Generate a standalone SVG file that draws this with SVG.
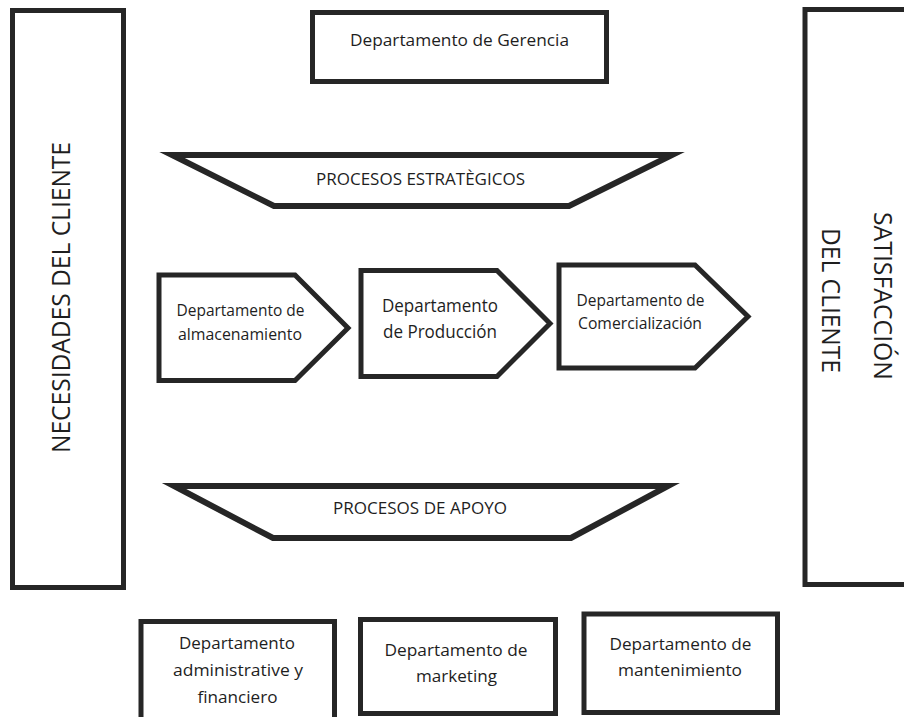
<svg xmlns="http://www.w3.org/2000/svg" width="904" height="717" viewBox="0 0 904 717">
<style>
.box{fill:#ffffff;stroke:#262626;stroke-width:5;stroke-linejoin:miter;stroke-miterlimit:12}
.trap{fill:#ffffff;stroke:#262626;stroke-width:6;stroke-linejoin:miter;stroke-miterlimit:12}
.t{font-family:"Open Sans","Noto Sans","DejaVu Sans",sans-serif;fill:#1e1e1e;text-anchor:middle}
</style>
<rect width="904" height="717" fill="#ffffff"/>
<g id="necesidades">
<rect class="box" x="12.5" y="10.5" width="111" height="577"/>
<text class="t" font-size="26" textLength="311" lengthAdjust="spacingAndGlyphs" transform="translate(70,297.5) rotate(-90)">NECESIDADES DEL CLIENTE</text>
</g>
<g id="satisfaccion">
<rect class="box" x="805" y="9.5" width="130" height="575"/>
<text class="t" font-size="25" textLength="168" lengthAdjust="spacingAndGlyphs" transform="translate(874,296) rotate(90)">SATISFACCIÓN</text>
<text class="t" font-size="25" textLength="145" lengthAdjust="spacingAndGlyphs" transform="translate(822,300.5) rotate(90)">DEL CLIENTE</text>
</g>
<g id="gerencia">
<rect class="box" x="312.5" y="12.5" width="294" height="69"/>
<text class="t" x="459.5" y="46" font-size="17" textLength="219" lengthAdjust="spacingAndGlyphs">Departamento de Gerencia</text>
</g>
<g id="estrategicos">
<polygon class="trap" points="172,155 672,155 569,206 274,206"/>
<text class="t" x="420.5" y="185" font-size="16.5" textLength="209" lengthAdjust="spacingAndGlyphs">PROCESOS ESTRATÈGICOS</text>
</g>
<g id="almacenamiento">
<polygon class="box" points="159,275 295,275 348,328 295,380.5 159,380.5"/>
<text class="t" x="240.5" y="316" font-size="16.5" textLength="128" lengthAdjust="spacingAndGlyphs">Departamento de</text>
<text class="t" x="240" y="339.5" font-size="16.5" textLength="124" lengthAdjust="spacingAndGlyphs">almacenamiento</text>
</g>
<g id="produccion">
<polygon class="box" points="361,270.5 497,270.5 550,323.5 497,376.5 361,376.5"/>
<text class="t" x="440" y="312" font-size="18" textLength="116" lengthAdjust="spacingAndGlyphs">Departamento</text>
<text class="t" x="440" y="337.5" font-size="18" textLength="114" lengthAdjust="spacingAndGlyphs">de Producción</text>
</g>
<g id="comercializacion">
<polygon class="box" points="559,265 695,265 748,316.5 695,368 559,368"/>
<text class="t" x="640.5" y="305.5" font-size="16.5" textLength="128" lengthAdjust="spacingAndGlyphs">Departamento de</text>
<text class="t" x="640" y="329" font-size="16.5" textLength="124" lengthAdjust="spacingAndGlyphs">Comercialización</text>
</g>
<g id="apoyo">
<polygon class="trap" points="174,486 668,486 571,538 273,538"/>
<text class="t" x="420" y="514" font-size="16" textLength="174" lengthAdjust="spacingAndGlyphs">PROCESOS DE APOYO</text>
</g>
<g id="administrativo">
<rect class="box" x="141" y="621.5" width="193.5" height="110"/>
<text class="t" x="237" y="649" font-size="17" textLength="116" lengthAdjust="spacingAndGlyphs">Departamento</text>
<text class="t" x="238" y="676" font-size="17" textLength="130" lengthAdjust="spacingAndGlyphs">administrative y</text>
<text class="t" x="237.5" y="702.5" font-size="17" textLength="80" lengthAdjust="spacingAndGlyphs">financiero</text>
</g>
<g id="marketing">
<rect class="box" x="360.5" y="619.5" width="195" height="94"/>
<text class="t" x="456" y="656" font-size="17" textLength="143" lengthAdjust="spacingAndGlyphs">Departamento de</text>
<text class="t" x="456.5" y="681.5" font-size="17" textLength="81" lengthAdjust="spacingAndGlyphs">marketing</text>
</g>
<g id="mantenimiento">
<rect class="box" x="584" y="614" width="193.5" height="98.5"/>
<text class="t" x="680.5" y="650" font-size="17" textLength="142" lengthAdjust="spacingAndGlyphs">Departamento de</text>
<text class="t" x="680" y="675.5" font-size="17" textLength="124" lengthAdjust="spacingAndGlyphs">mantenimiento</text>
</g>
<g id="connectors"></g>
</svg>
